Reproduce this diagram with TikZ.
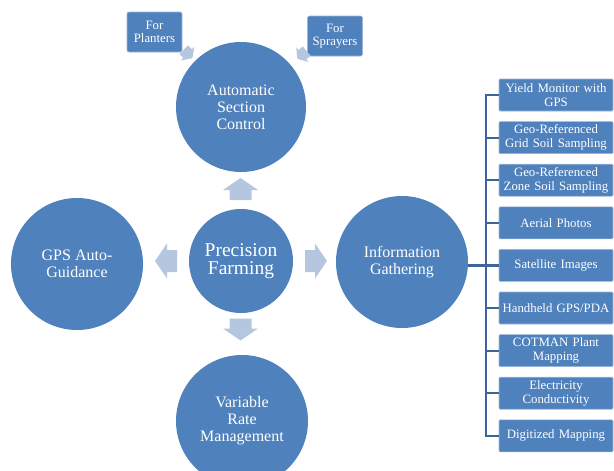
\documentclass[tikz,border=0pt]{standalone}
\usepackage{fontspec}
\setmainfont{Liberation Serif}
\definecolor{circblue}{HTML}{4F81BD}
\definecolor{arrblue}{HTML}{B4C6E0}
\definecolor{linblue}{HTML}{3E6598}
\definecolor{boxedge}{HTML}{9DB6D8}
\tikzset{
  bigcirc/.style={circle, fill=circblue, text=white, align=center, inner sep=0pt,
    font=\fontsize{16}{17}\selectfont},
  itembox/.style={rectangle, rounded corners=1pt, fill=circblue, draw=boxedge, line width=0.6pt,
    text=white, align=center, minimum width=114pt, minimum height=32pt, inner sep=1pt,
    text width=112pt, font=\fontsize{12.8}{13.5}\selectfont},
  smallbox/.style={rectangle, rounded corners=2pt, fill=circblue, draw=boxedge, line width=0.6pt,
    text=white, align=center, minimum width=55pt, minimum height=40pt, inner sep=1pt,
    font=\fontsize{12.8}{13.5}\selectfont},
  bracketline/.style={draw=linblue, line width=2.2pt},
  barrow/.pic={\fill[arrblue] (-11,-11) -- (-1,-11) -- (-1,-17.5) -- (11,0) -- (-1,17.5) -- (-1,11) -- (-11,11) -- cycle;}
}
\begin{document}
\begin{tikzpicture}[x=1pt,y=-1pt]
\useasboundingbox (0,0) rectangle (614,471);
\clip (0,0) rectangle (614,471);

% circles
\node[bigcirc, minimum size=130pt] (asc) at (241,107) {Automatic\\Section\\Control};
\node[bigcirc, minimum size=104pt, font=\fontsize{19.5}{18.5}\selectfont] (pf) at (241,261) {Precision\\Farming};
\node[bigcirc, minimum size=132pt] (gps) at (77,264) {GPS Auto-\\Guidance};
\node[bigcirc, minimum size=132pt] (info) at (402,262) {Information\\Gathering};
\node[bigcirc, minimum size=132pt] (vrm) at (242,421) {Variable\\Rate\\Management};

% small boxes
\node[smallbox] (plant) at (154.5,32) {For\\Planters};
\node[smallbox] (spray) at (335,36) {For\\Sprayers};

% block arrows
\pic[rotate=90] at (240.5,189) {barrow};
\pic[rotate=-90] at (240.5,329.5) {barrow};
\pic[rotate=180] at (166,261) {barrow};
\pic at (316,261) {barrow};
\pic[rotate=-45, scale=0.55] at (188,54) {barrow};
\pic[rotate=-140, scale=0.55] at (302,55) {barrow};

% item boxes
\node[itembox] (b1) at (556,95) {Yield Monitor with\\GPS};
\node[itembox] (b2) at (556,137.6) {Geo-Referenced\\Grid Soil Sampling};
\node[itembox] (b3) at (556,180.2) {Geo-Referenced\\Zone Soil Sampling};
\node[itembox] (b4) at (556,222.8) {Aerial Photos};
\node[itembox] (b5) at (556,265.4) {Satellite Images};
\node[itembox] (b6) at (556,308) {Handheld GPS/PDA};
\node[itembox] (b7) at (556,350.6) {COTMAN Plant\\Mapping};
\node[itembox] (b8) at (556,393.2) {Electricity\\Conductivity};
\node[itembox] (b9) at (556,435.8) {Digitized Mapping};

% bracket
\coordinate (spine) at (486,0);
\draw[bracketline] (b1.west) -- (b1.west -| spine) -- (b9.west -| spine) -- (b9.west);
\foreach \b in {b2,b3,b4,b5,b6,b7,b8}{
  \draw[bracketline] (\b.west) -- (\b.west -| spine);
}
\draw[bracketline] (info.east |- b5.west) -- (b5.west -| spine);
\end{tikzpicture}
\end{document}
